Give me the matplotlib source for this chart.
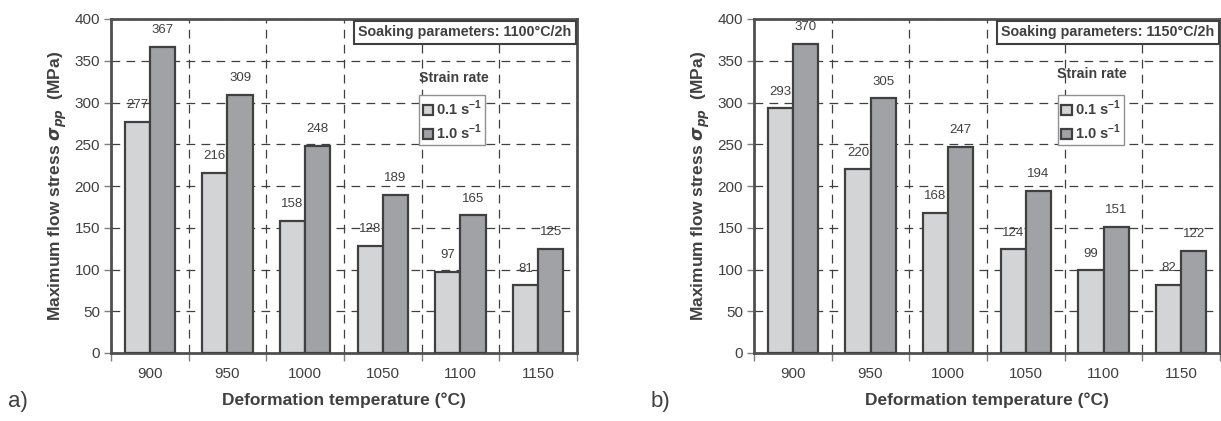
import matplotlib
matplotlib.use("Agg")
import matplotlib.pyplot as plt
import numpy as np

plt.rcParams['font.family'] = ['Liberation Sans', 'DejaVu Sans']
plt.rcParams['mathtext.fontset'] = 'custom'
plt.rcParams['mathtext.it'] = 'DejaVu Sans:italic:bold'
plt.rcParams['mathtext.bf'] = 'Liberation Sans:bold'
plt.rcParams['mathtext.rm'] = 'Liberation Sans'

temps = ['900', '950', '1000', '1050', '1100', '1150']
a_low = [277, 216, 158, 128, 97, 81]
a_high = [367, 309, 248, 189, 165, 125]
b_low = [293, 220, 168, 124, 99, 82]
b_high = [370, 305, 247, 194, 151, 122]
titles = ['Soaking parameters: 1100°C/2h', 'Soaking parameters: 1150°C/2h']
series_labels = ['0.1 s$^{\\mathbf{-1}}$', '1.0 s$^{\\mathbf{-1}}$']
panel_tags = ['a)', 'b)']

TXT = '#404040'
LIGHT = '#d3d4d6'
DARK = '#a1a2a6'
EDGE = '#404040'

W, H = 1221, 421
fig = plt.figure(figsize=(W / 100, H / 100), dpi=100)

panels = [
    dict(left=111, low=a_low, high=a_high, title=titles[0], tag=panel_tags[0], tagx=8,
         leg=(0.661, 0.772), sr=(0.736, 0.823)),
    dict(left=754, low=b_low, high=b_high, title=titles[1], tag=panel_tags[1], tagx=651,
         leg=(0.652, 0.772), sr=(0.725, 0.835)),
]

bw = 0.325
x = np.arange(len(temps))
for p in panels:
    ax = fig.add_axes([p['left'] / W, (H - 353) / H, 466 / W, 334 / H])
    ax.set_axisbelow(True)
    ax.bar(x - bw / 2, p['low'], bw, color=LIGHT, edgecolor=EDGE, linewidth=1.6,
           label=series_labels[0], zorder=3)
    ax.bar(x + bw / 2, p['high'], bw, color=DARK, edgecolor=EDGE, linewidth=1.6,
           label=series_labels[1], zorder=3)
    for xi, v in zip(x - bw / 2, p['low']):
        ax.text(xi, v + 20, str(v), ha='center', va='center', fontsize=9.5, color=TXT, zorder=4)
    for xi, v in zip(x + bw / 2, p['high']):
        ax.text(xi, v + 20, str(v), ha='center', va='center', fontsize=9.5, color=TXT, zorder=4)

    ax.set_xlim(-0.5, len(temps) - 0.5)
    ax.set_ylim(0, 400)
    ax.set_yticks(np.arange(0, 401, 50))
    ax.set_xticks(np.arange(-0.5, len(temps), 1.0))
    ax.set_xticklabels([])
    ax.set_xticks(x, minor=True)
    ax.set_xticklabels(temps, minor=True)
    ax.tick_params(axis='x', which='minor', length=0, pad=10, labelsize=11, labelcolor=TXT)
    ax.tick_params(axis='x', which='major', length=6, width=1, color='#808080')
    ax.tick_params(axis='y', length=5, width=1, color='#808080', labelsize=11, labelcolor=TXT, pad=3)
    ax.grid(True, which='major', axis='both', linestyle=(0, (7, 5)), color=TXT, linewidth=0.9)
    for s in ax.spines.values():
        s.set_color('#505050')
        s.set_linewidth(2)
    ax.set_ylabel('Maximum flow stress $\\sigma_{pp}$  (MPa)', fontsize=12.5, fontweight='bold',
                  color=TXT, labelpad=4)
    ax.set_xlabel('Deformation temperature (°C)', fontsize=12.5, fontweight='bold', color=TXT,
                  labelpad=8)
    ax.text(0.7595, 0.96, p['title'], transform=ax.transAxes, ha='center', va='center',
            fontsize=10.3, fontweight='bold', color=TXT, zorder=6,
            bbox=dict(boxstyle='square,pad=0.3', facecolor='white', edgecolor=TXT, linewidth=1.5))
    ax.text(p['sr'][0], p['sr'][1], 'Strain rate', transform=ax.transAxes, ha='center',
            va='center', fontsize=10.2, fontweight='bold', color=TXT, zorder=6)
    leg = ax.legend(loc='upper left', bbox_to_anchor=p['leg'], fancybox=False, framealpha=1,
                    edgecolor='#909090', handlelength=0.7, handleheight=0.7, handletextpad=0.2,
                    borderpad=0.25, labelspacing=0.3, borderaxespad=0,
                    prop=dict(size=10.5, weight='bold'))
    leg.get_frame().set_linewidth(1)
    for t in leg.get_texts():
        t.set_color(TXT)
    leg.set_zorder(6)
    fig.text(p['tagx'] / W, 1 - 402 / H, p['tag'], fontsize=16, color=TXT, ha='left', va='center')

fig.savefig('out.png', dpi=100)
